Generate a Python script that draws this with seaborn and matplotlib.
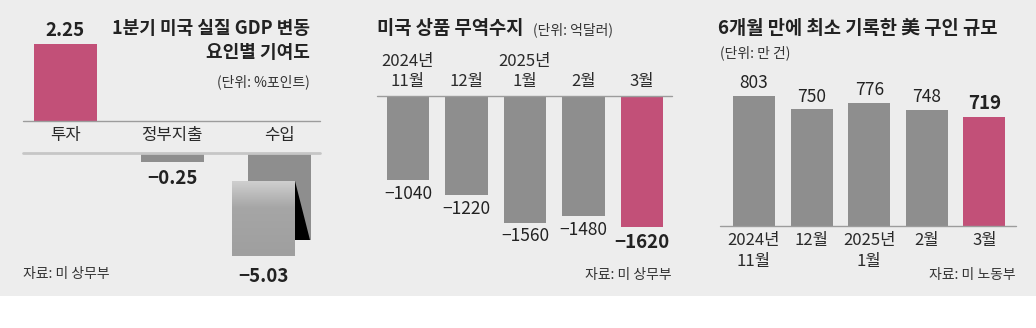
import numpy as np
import matplotlib
matplotlib.use("Agg")
import matplotlib.pyplot as plt
from matplotlib.patches import Rectangle, Polygon
from matplotlib.colors import LinearSegmentedColormap
import seaborn as sns

# ---------------- data ----------------
gdp_cats = ["투자", "정부지출", "수입"]
gdp_vals = [2.25, -0.25, -5.03]

trade_cats = ["2024년\n11월", "12월", "2025년\n1월", "2월", "3월"]
trade_vals = [-1040, -1220, -1560, -1480, -1620]

jobs_cats = ["2024년\n11월", "12월", "2025년\n1월", "2월", "3월"]
jobs_vals = [803, 750, 776, 748, 719]

# ---------------- style ----------------
sns.set_theme(style="white")
plt.rcParams["font.family"] = ["Noto Sans CJK KR", "DejaVu Sans"]
plt.rcParams["axes.unicode_minus"] = True

PINK = "#c25078"
GRAY = "#8e8e8e"
BG = "#ededed"
TXT = "#222222"
LINE = "#9c9c9c"

W, H = 1036, 328
TICK_FS = 12
TITLE_FS = 13.5
SMALL_FS = 10


def rect(x0, y0, x1, y1):
    return [x0 / W, 1 - y1 / H, (x1 - x0) / W, (y1 - y0) / H]


def fx(x):
    return x / W


def fy(y):
    return 1 - y / H


def fmt(v):
    return f"{v:g}".replace("-", "\u2212")


def clean(ax):
    for s in ax.spines.values():
        s.set_visible(False)
    ax.set_facecolor("none")
    ax.set_xlabel("")
    ax.set_ylabel("")
    ax.set_yticks([])
    ax.tick_params(axis="x", length=0, labelsize=TICK_FS, colors="#2a2a2a")


fig = plt.figure(figsize=(W / 100, H / 100), dpi=100, facecolor="white")
fig.patches.append(Rectangle((0, fy(296)), 1, 296 / H, transform=fig.transFigure,
                             facecolor=BG, edgecolor="none", zorder=-10))

# ---------------- panel 1 ----------------
c1 = [PINK, GRAY, GRAY]
px_per_unit = 77 / 2.25
XL1 = (-0.394, 2.381)
BW1 = 0.589
ax1t = fig.add_axes(rect(23, 44, 320, 121))
sns.barplot(x=gdp_cats, y=gdp_vals, hue=gdp_cats, palette=c1, legend=False,
            width=BW1, saturation=1, linewidth=0, ax=ax1t)
ax1t.set_ylim(0, 2.25)
ax1t.set_xlim(*XL1)
clean(ax1t)
ax1t.tick_params(axis="x", pad=4)
ax1t.axhline(0, color=LINE, lw=1, clip_on=False)

ax1b = fig.add_axes(rect(23, 153, 320, 240))
sns.barplot(x=gdp_cats, y=gdp_vals, hue=gdp_cats, palette=c1, legend=False,
            width=BW1, saturation=1, linewidth=0, ax=ax1b)
ax1b.set_ylim(-87 / px_per_unit, 0)
ax1b.set_xlim(*XL1)
clean(ax1b)
ax1b.set_xticks([])
ax1b.axhline(0, color="#c6c6c6", lw=2, clip_on=False)

ax1t.annotate(fmt(gdp_vals[0]), xy=(0, gdp_vals[0]), xytext=(0, 10),
              textcoords="offset points", ha="center", va="center",
              fontsize=13.5, fontweight="bold", color=TXT, annotation_clip=False)
ax1b.annotate(fmt(gdp_vals[1]), xy=(1, gdp_vals[1]), xytext=(0, -12),
              textcoords="offset points", ha="center", va="center",
              fontsize=13.5, fontweight="bold", color=TXT, annotation_clip=False)

# broken-bar fold decoration for the truncated import bar
cmap = LinearSegmentedColormap.from_list(
    "fold", [(0, "#cfcfcf"), (0.35, "#a6a6a6"), (1, "#9f9f9f")])
axg = fig.add_axes(rect(232, 181, 295, 256))
axg.imshow(np.linspace(0, 1, 100).reshape(-1, 1), aspect="auto", cmap=cmap,
           extent=(0, 1, 0, 1))
axg.axis("off")
fig.add_artist(Polygon([(fx(295), fy(181)), (fx(310), fy(240)), (fx(295), fy(240))],
                       closed=True, transform=fig.transFigure, facecolor="black",
                       edgecolor="none", zorder=5))
fig.text(fx(263), fy(276), fmt(gdp_vals[2]), ha="center", va="center",
         fontsize=13.5, fontweight="bold", color=TXT)

fig.text(fx(310), fy(28), "1분기 미국 실질 GDP 변동", ha="right", va="center",
         fontsize=TITLE_FS - 0.5, fontweight="bold", color=TXT)
fig.text(fx(310), fy(52), "요인별 기여도", ha="right", va="center",
         fontsize=TITLE_FS - 0.5, fontweight="bold", color=TXT)
fig.text(fx(310), fy(82), "(단위: %포인트)", ha="right", va="center",
         fontsize=SMALL_FS, color="#333333")
fig.text(fx(23), fy(274), "자료: 미 상무부", ha="left", va="center",
         fontsize=SMALL_FS, color="#333333")

# ---------------- panel 2 ----------------
c2 = [GRAY] * 4 + [PINK]
ax2 = fig.add_axes(rect(377, 96, 672, 250))
sns.barplot(x=trade_cats, y=trade_vals, hue=trade_cats, palette=c2, legend=False,
            width=0.72, saturation=1, linewidth=0, ax=ax2)
ax2.set_ylim(-154 / 0.0811, 0)
ax2.set_xlim(-0.53, 4.513)
clean(ax2)
ax2.xaxis.tick_top()
ax2.tick_params(axis="x", pad=4)
for lbl in ax2.get_xticklabels():
    lbl.set_linespacing(1.25)
ax2.axhline(0, color=LINE, lw=1, clip_on=False)
for i, v in enumerate(trade_vals):
    last = i == len(trade_vals) - 1
    ax2.annotate(fmt(v), xy=(i, v), xytext=(0, -11 if last else -10),
                 textcoords="offset points", ha="center", va="center",
                 fontsize=13.5 if last else 12.5,
                 fontweight="bold" if last else "normal", color=TXT,
                 annotation_clip=False)

fig.text(fx(377), fy(28), "미국 상품 무역수지", ha="left", va="center",
         fontsize=TITLE_FS, fontweight="bold", color=TXT)
fig.text(fx(533), fy(30), "(단위: 억달러)", ha="left", va="center",
         fontsize=SMALL_FS, color="#333333")
fig.text(fx(672), fy(275), "자료: 미 상무부", ha="right", va="center",
         fontsize=SMALL_FS, color="#333333")

# ---------------- panel 3 ----------------
c3 = [GRAY] * 4 + [PINK]
ax3 = fig.add_axes(rect(720, 80, 1016, 226))
sns.barplot(x=jobs_cats, y=jobs_vals, hue=jobs_cats, palette=c3, legend=False,
            width=0.73, saturation=1, linewidth=0, ax=ax3)
ax3.set_ylim(283, 867)
ax3.set_xlim(-0.59, 4.548)
clean(ax3)
ax3.tick_params(axis="x", pad=4)
for lbl in ax3.get_xticklabels():
    lbl.set_linespacing(1.35)
ax3.axhline(283, color=LINE, lw=1, clip_on=False)
for i, v in enumerate(jobs_vals):
    last = i == len(jobs_vals) - 1
    ax3.annotate(fmt(v), xy=(i, v), xytext=(0, 9.5 if last else 9),
                 textcoords="offset points", ha="center", va="center",
                 fontsize=13.5 if last else 12.5,
                 fontweight="bold" if last else "normal", color=TXT,
                 annotation_clip=False)

fig.text(fx(718), fy(28), "6개월 만에 최소 기록한 美 구인 규모", ha="left", va="center",
         fontsize=TITLE_FS, fontweight="bold", color=TXT)
fig.text(fx(720), fy(53), "(단위: 만 건)", ha="left", va="center",
         fontsize=SMALL_FS, color="#333333")
fig.text(fx(1016), fy(275), "자료: 미 노동부", ha="right", va="center",
         fontsize=SMALL_FS, color="#333333")

fig.savefig("out.png", dpi=100, facecolor="white")
